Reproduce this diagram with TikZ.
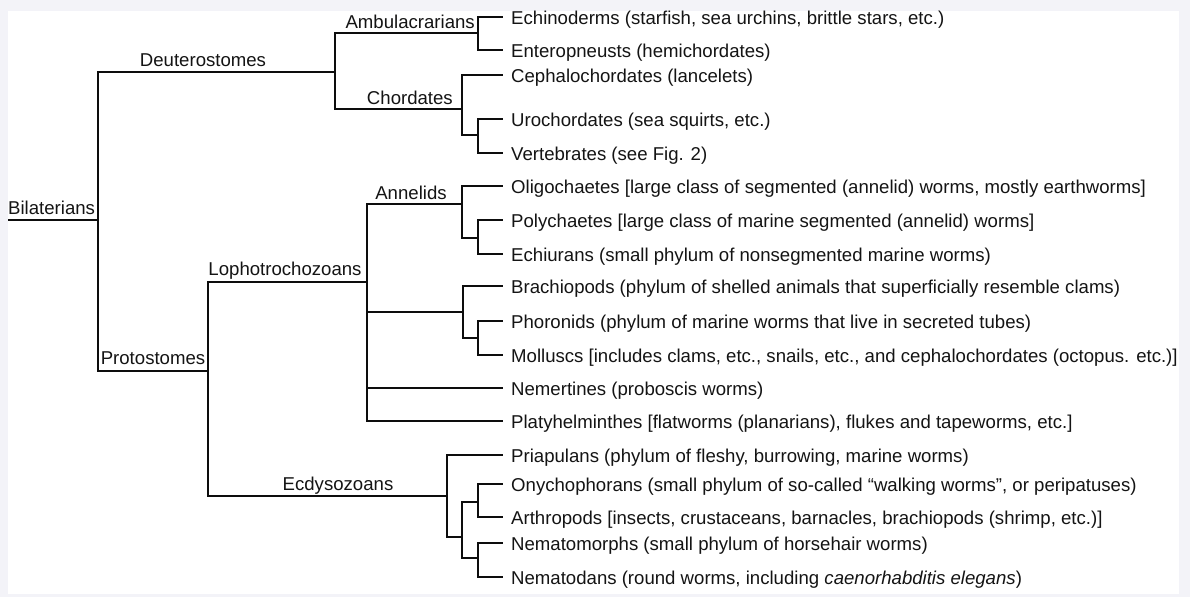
\documentclass[tikz,border=0pt]{standalone}
\usepackage{fontspec}
\setmainfont{Liberation Sans}
\usetikzlibrary{positioning}
\usepackage{xcolor}
\definecolor{pagebg}{RGB}{243,243,248}
\colorlet{treeline}{black!95}
\colorlet{treetext}{black!92}
\tikzset{
  branch/.style={line width=2.2pt, draw=treeline, line join=miter},
  twig/.style={branch, shorten >=4pt},
  leaf/.style={anchor=west, inner xsep=4pt, inner ysep=0pt, text height=15pt, text depth=1pt, text=treetext},
  clade/.style={inner sep=0pt, text=treetext}
}

\begin{document}
\begin{tikzpicture}[x=1pt, y=-1pt, font=\fontsize{18.6}{22}\selectfont]

  \useasboundingbox (0,0) rectangle (1190,597);
  \fill[pagebg] (0,0) rectangle (1190,597);
  \fill[white] (8,11) rectangle (1179,594);

  % --- branching points (x of the split, y where the stem comes in) ---
  \coordinate (root) at (8,220);
  \coordinate (bil) at (98,220);
  \coordinate (deu) at (335,72);
  \coordinate (amb) at (478,33);
  \coordinate (cho) at (462,109);
  \coordinate (cho2) at (478,135);
  \coordinate (pro) at (208,371);
  \coordinate (lop) at (367,282);
  \coordinate (ann) at (462,204);
  \coordinate (ann2) at (478,238);
  \coordinate (bra) at (463,312);
  \coordinate (bra2) at (478,338);
  \coordinate (ecd) at (447,496);
  \coordinate (ecd2) at (462,537);
  \coordinate (ony) at (478,502);
  \coordinate (nem) at (478,558);

  % --- leaves ---
  \node[leaf] (echin) at (507,17) {Echinoderms (starfish, sea urchins, brittle stars, etc.)};
  \node[leaf] (enter) at (507,50) {Enteropneusts (hemichordates)};
  \node[leaf] (cepha) at (507,75) {Cephalochordates (lancelets)};
  \node[leaf] (uroch) at (507,119) {Urochordates (sea squirts, etc.)};
  \node[leaf] (verte) at (507,153) {Vertebrates (see Fig. 2)};
  \node[leaf] (oligo) at (507,186) {Oligochaetes [large class of segmented (annelid) worms, mostly earthworms]};
  \node[leaf] (polyc) at (507,220) {Polychaetes [large class of marine segmented (annelid) worms]};
  \node[leaf] (echiu) at (507,254) {Echiurans (small phylum of nonsegmented marine worms)};
  \node[leaf] (brach) at (507,286) {Brachiopods (phylum of shelled animals that superficially resemble clams)};
  \node[leaf] (phoro) at (507,321) {Phoronids (phylum of marine worms that live in secreted tubes)};
  \node[leaf] (mollu) at (507,355) {Molluscs [includes clams, etc., snails, etc., and cephalochordates (octopus. etc.)]};
  \node[leaf] (nemer) at (507,388) {Nemertines (proboscis worms)};
  \node[leaf] (platy) at (507,421) {Platyhelminthes [flatworms (planarians), flukes and tapeworms, etc.]};
  \node[leaf] (priap) at (507,455) {Priapulans (phylum of fleshy, burrowing, marine worms)};
  \node[leaf] (onych) at (507,484) {Onychophorans (small phylum of so-called “walking worms”, or peripatuses)};
  \node[leaf] (arthr) at (507,517) {Arthropods [insects, crustaceans, barnacles, brachiopods (shrimp, etc.)]};
  \node[leaf] (nmorp) at (507,543) {Nematomorphs (small phylum of horsehair worms)};
  \node[leaf] (nodan) at (507,577) {Nematodans (round worms, including \textit{caenorhabditis elegans})};

  % --- clade names over the stems ---
  \node[clade, anchor=base west] (bil-lab) at (8,214) {Bilaterians};
  \node[clade, anchor=base] (deu-lab) at (203,66) {Deuterostomes};
  \node[clade, anchor=base east] (amb-lab) at (475,28) {Ambulacrarians};
  \node[clade, anchor=base east] (cho-lab) at (453,104) {Chordates};
  \node[clade, anchor=base] (pro-lab) at (153,364) {Protostomes};
  \node[clade, anchor=base] (lop-lab) at (285,275) {Lophotrochozoans};
  \node[clade, anchor=base] (ann-lab) at (411,199) {Annelids};
  \node[clade, anchor=base] (ecd-lab) at (338,490) {Ecdysozoans};

  % --- stems between branching points ---
  \draw[branch] (root) -- (bil);
  \draw[branch] (bil) |- (deu);
  \draw[branch] (bil) |- (pro);
  \draw[branch] (deu) |- (amb);
  \draw[branch] (deu) |- (cho);
  \draw[branch] (cho) |- (cho2);
  \draw[branch] (pro) |- (lop);
  \draw[branch] (pro) |- (ecd);
  \draw[branch] (lop) |- (ann);
  \draw[branch] (ann) |- (ann2);
  \draw[branch] (lop) |- (bra);
  \draw[branch] (bra) |- (bra2);
  \draw[branch] (ecd) |- (ecd2);
  \draw[branch] (ecd2) |- (ony);
  \draw[branch] (ecd2) |- (nem);

  % --- twigs out to the leaves ---
  \draw[twig] (amb) |- (echin.west);
  \draw[twig] (amb) |- (enter.west);
  \draw[twig] (cho) |- (cepha.west);
  \draw[twig] (cho2) |- (uroch.west);
  \draw[twig] (cho2) |- (verte.west);
  \draw[twig] (ann) |- (oligo.west);
  \draw[twig] (ann2) |- (polyc.west);
  \draw[twig] (ann2) |- (echiu.west);
  \draw[twig] (bra) |- (brach.west);
  \draw[twig] (bra2) |- (phoro.west);
  \draw[twig] (bra2) |- (mollu.west);
  \draw[twig] (lop) |- (nemer.west);
  \draw[twig] (lop) |- (platy.west);
  \draw[twig] (ecd) |- (priap.west);
  \draw[twig] (ony) |- (onych.west);
  \draw[twig] (ony) |- (arthr.west);
  \draw[twig] (nem) |- (nmorp.west);
  \draw[twig] (nem) |- (nodan.west);

\end{tikzpicture}
\end{document}
